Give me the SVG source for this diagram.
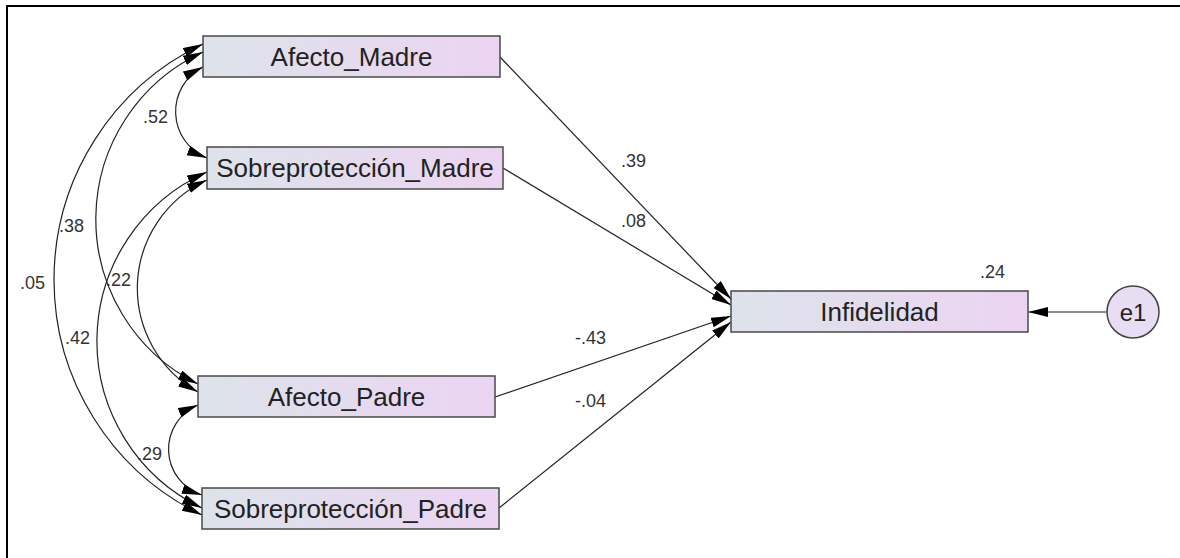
<svg xmlns="http://www.w3.org/2000/svg" width="1180" height="558" viewBox="0 0 1180 558">
  <style>
    .box { stroke: #4a4a4a; stroke-width: 1.5; fill: url(#boxFill); }
    .lbl { font-family: "Liberation Sans", Arial, sans-serif; font-size: 26px; fill: #222; text-anchor: middle; }
    .coef { font-family: "Liberation Sans", Arial, sans-serif; font-size: 18px; fill: #333; }
    .path { fill: none; stroke: #222; stroke-width: 1.2; }
    .cov { fill: none; stroke: #222; stroke-width: 1.2; marker-start: url(#head); marker-end: url(#head); }
    .reg { marker-end: url(#head); }
  </style>
  <defs>
    <linearGradient id="boxFill" x1="0" y1="0" x2="1" y2="0">
      <stop offset="0" stop-color="#dde3ea"/>
      <stop offset="1" stop-color="#ecd4f2"/>
    </linearGradient>
    <marker id="head" markerUnits="userSpaceOnUse" markerWidth="22" markerHeight="12" refX="20" refY="5" orient="auto-start-reverse">
      <path d="M0,0 L20,5 L0,10 z" fill="#000"/>
    </marker>
  </defs>

  <rect width="1180" height="558" fill="#fff"/>
  <!-- frame -->
  <path d="M7,558 V6 H1180" fill="none" stroke="#000" stroke-width="2"/>

  <!-- connectors -->
  <g id="connectors">
    <!-- paths into Infidelidad -->
    <line class="path reg" x1="500" y1="57" x2="731" y2="299"/>
    <line class="path reg" x1="503" y1="168" x2="731" y2="305"/>
    <line class="path reg" x1="495" y1="397" x2="731" y2="316"/>
    <line class="path reg" x1="499" y1="508" x2="731" y2="322"/>
    <line class="path reg" x1="1107" y1="312" x2="1028" y2="312"/>
    <!-- covariances -->
    <path class="cov" d="M203,67 A50,50 0 0 0 207,158"/>
    <path class="cov" d="M203,44 A261,261 0 0 0 202,515"/>
    <path class="cov" d="M203,52 A184,184 0 0 0 198,384"/>
    <path class="cov" d="M207,172 A185,185 0 0 0 202,508"/>
    <path class="cov" d="M207,180 A119,119 0 0 0 198,392"/>
    <path class="cov" d="M198,405 A48,48 0 0 0 202,495"/>
  </g>

  <g id="afecto_madre">
    <rect class="box" x="203" y="36" width="297" height="41"/>
    <text class="lbl" x="351.5" y="66">Afecto_Madre</text>
  </g>
  <g id="sobreproteccion_madre">
    <rect class="box" x="207" y="147" width="296" height="42"/>
    <text class="lbl" x="355" y="177">Sobreprotección_Madre</text>
  </g>
  <g id="afecto_padre">
    <rect class="box" x="198" y="376" width="297" height="41"/>
    <text class="lbl" x="346.5" y="406">Afecto_Padre</text>
  </g>
  <g id="sobreproteccion_padre">
    <rect class="box" x="202" y="488" width="297" height="41"/>
    <text class="lbl" x="350.5" y="518">Sobreprotección_Padre</text>
  </g>
  <g id="infidelidad">
    <rect class="box" x="731" y="291" width="297" height="41"/>
    <text class="lbl" x="879.5" y="321">Infidelidad</text>
  </g>
  <g id="e1">
    <circle cx="1133" cy="312" r="26" fill="#e8ddf2" stroke="#444" stroke-width="1.5"/>
    <text class="lbl" x="1133" y="321" style="font-size:24px">e1</text>
  </g>

  <!-- estimates -->
  <g id="estimates">
    <text class="coef" x="980" y="278">.24</text>
    <text class="coef" x="621" y="167">.39</text>
    <text class="coef" x="621" y="227">.08</text>
    <text class="coef" x="575" y="344">-.43</text>
    <text class="coef" x="575" y="407">-.04</text>
    <text class="coef" x="143" y="123">.52</text>
    <text class="coef" x="59" y="232">.38</text>
    <text class="coef" x="20" y="289">.05</text>
    <text class="coef" x="106" y="286">.22</text>
    <text class="coef" x="65" y="344">.42</text>
    <text class="coef" x="137" y="460">.29</text>
  </g>
</svg>
